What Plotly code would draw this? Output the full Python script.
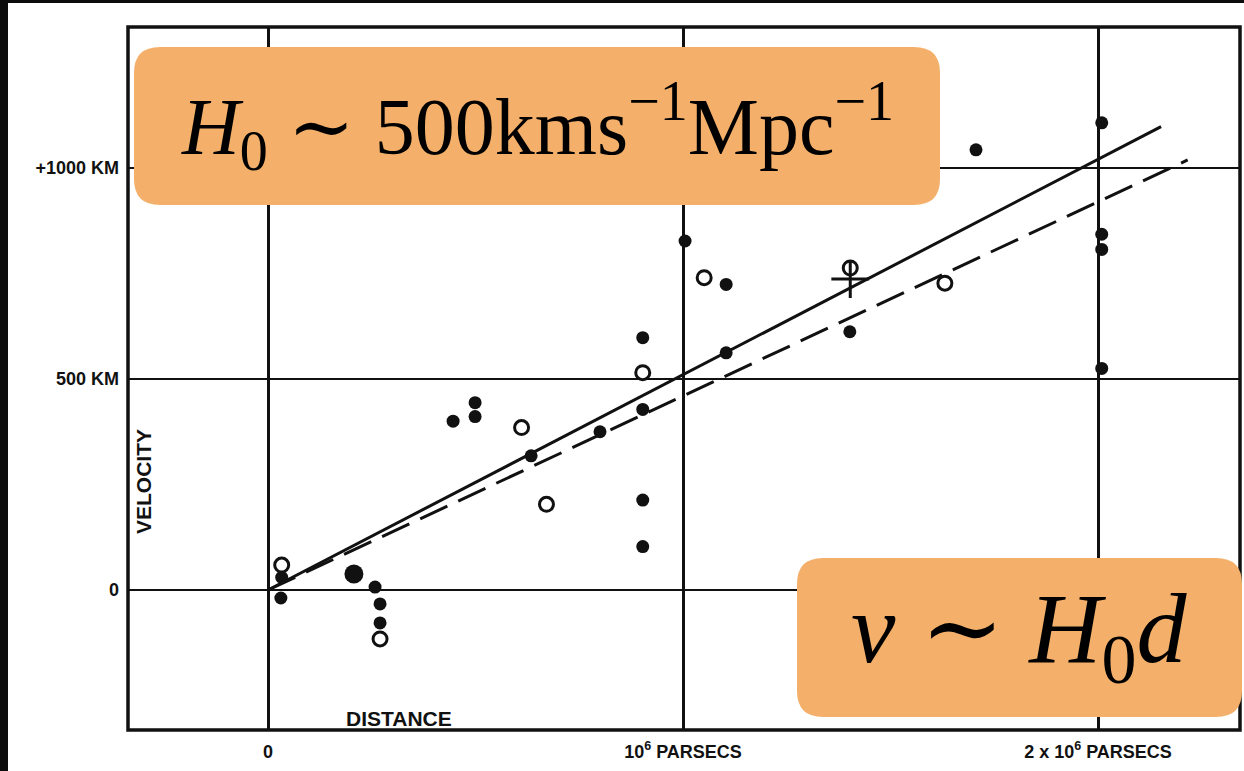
import plotly.graph_objects as go

# Distances in units of 10^6 parsecs, velocities in km/s
filled_distance = [0.031, 0.033, 0.258, 0.270, 0.270, 0.446, 0.499, 0.499, 0.634, 0.800,
                   0.903, 0.903, 0.903, 0.903, 1.005, 1.104, 1.104, 1.402, 1.706,
                   2.009, 2.009, 2.009, 2.009]
filled_velocity = [-19, 30, 7, -33, -78, 400, 444, 411, 318, 375,
                   428, 598, 213, 103, 827, 724, 562, 612, 1043,
                   1107, 843, 807, 525]

large_distance = [0.207]
large_velocity = [38]

open_distance = [0.033, 0.270, 0.611, 0.671, 0.903, 1.051, 1.403, 1.631]
open_velocity = [59, -116, 385, 203, 515, 740, 763, 727]

cross_distance = [1.403]
cross_velocity = [737]

# Fitted relations (solid: individual nebulae, dashed: grouped)
solid_distance = [0.0, 2.152]
solid_velocity = [0, 1098]
dashed_distance = [0.0, 2.216]
dashed_velocity = [0, 1019]

x_tick_vals = [0, 1, 2]
x_tick_text = ["0", "10<sup>6</sup> PARSECS", "2 x 10<sup>6</sup> PARSECS"]
y_tick_vals = [0, 500, 1000]
y_tick_text = ["0", "500 KM", "+1000 KM"]

W, H = 1244, 771
ML, MR, MT, MB = 128, 4, 27, 41
PW, PH = W - ML - MR, H - MT - MB


def px_x(p):
    return (p - ML) / PW


def px_y(p):
    return 1 - (p - MT) / PH


def rounded_box(x0, y0, x1, y1, r):
    # pixel box -> paper path with rounded corners
    ax0, ax1 = px_x(x0), px_x(x1)
    ay0, ay1 = px_y(y0), px_y(y1)  # ay0 is top
    rx, ry = r / PW, r / PH
    return (f"M {ax0 + rx},{ay0} L {ax1 - rx},{ay0} Q {ax1},{ay0} {ax1},{ay0 - ry} "
            f"L {ax1},{ay1 + ry} Q {ax1},{ay1} {ax1 - rx},{ay1} "
            f"L {ax0 + rx},{ay1} Q {ax0},{ay1} {ax0},{ay1 + ry} "
            f"L {ax0},{ay0 - ry} Q {ax0},{ay0} {ax0 + rx},{ay0} Z")


INK = "#111111"
ORANGE = "rgb(244,176,106)"

fig = go.Figure()

fig.add_trace(go.Scatter(x=solid_distance, y=solid_velocity, mode="lines",
                         line=dict(color=INK, width=3), hoverinfo="skip"))
fig.add_trace(go.Scatter(x=dashed_distance, y=dashed_velocity, mode="lines",
                         line=dict(color=INK, width=3, dash="30px,12px"), hoverinfo="skip"))
fig.add_trace(go.Scatter(x=filled_distance, y=filled_velocity, mode="markers",
                         marker=dict(size=13, color=INK, line=dict(width=0))))
fig.add_trace(go.Scatter(x=large_distance, y=large_velocity, mode="markers",
                         marker=dict(size=19, color=INK, line=dict(width=0))))
fig.add_trace(go.Scatter(x=open_distance, y=open_velocity, mode="markers",
                         marker=dict(size=14, color="white", line=dict(width=3, color=INK))))
fig.add_trace(go.Scatter(x=cross_distance, y=cross_velocity, mode="markers",
                         marker=dict(symbol="cross-thin", size=27, line=dict(width=3, color=INK))))

tick_font = dict(family="Liberation Sans, Arial, sans-serif", size=18, color=INK)

fig.update_xaxes(range=[-140 / 415, 972 / 415], tickvals=x_tick_vals,
                 ticktext=[f"<b>{t}</b>" for t in x_tick_text],
                 showgrid=True, gridcolor=INK, gridwidth=2.6, zeroline=False,
                 showline=False, ticks="", tickfont=tick_font, ticklabelstandoff=9)
fig.update_yaxes(range=[-140 / 0.422, 563 / 0.422], tickvals=y_tick_vals,
                 ticktext=[f"<b>{t}</b>" for t in y_tick_text],
                 showgrid=True, gridcolor=INK, gridwidth=2.2, zeroline=False,
                 showline=False, ticks="", tickfont=tick_font, ticklabelstandoff=8)

shapes = [
    # plot frame
    dict(type="rect", xref="paper", yref="paper", x0=0, y0=0, x1=1, y1=1,
         line=dict(color=INK, width=3.5), layer="above"),
    # dark edges of the page
    dict(type="rect", xref="paper", yref="paper", x0=px_x(0), x1=px_x(8),
         y0=px_y(H), y1=px_y(0), fillcolor="#0c0c0c", line=dict(width=0)),
    dict(type="rect", xref="paper", yref="paper", x0=px_x(0), x1=px_x(W),
         y0=px_y(3), y1=px_y(0), fillcolor="#0c0c0c", line=dict(width=0)),
    # highlight boxes
    dict(type="path", xref="paper", yref="paper", path=rounded_box(134, 47, 940, 205, 26),
         fillcolor=ORANGE, line=dict(width=0), layer="above"),
    dict(type="path", xref="paper", yref="paper", path=rounded_box(797, 558, 1242, 717, 26),
         fillcolor=ORANGE, line=dict(width=0), layer="above"),
]

label_font = dict(family="Liberation Sans, Arial, sans-serif", size=21, color=INK)
serif = "Liberation Serif, DejaVu Serif, serif"
annotations = [
    dict(text="<b>VELOCITY</b>", xref="paper", yref="paper", x=px_x(143), y=px_y(482),
         xanchor="center", yanchor="middle",
         textangle=-90, showarrow=False, font=label_font),
    dict(text="<b>DISTANCE</b>", xref="paper", yref="paper", x=px_x(399), y=px_y(718),
         xanchor="center", yanchor="middle", showarrow=False, font=label_font),
    dict(text="<i>H</i><sub>0</sub> ∼ 500kms<sup>−1</sup>Mpc<sup>−1</sup>",
         xref="paper", yref="paper", x=px_x(537), y=px_y(126), xanchor="center", yanchor="middle",
         showarrow=False, font=dict(family=serif, size=80, color="black")),
    dict(text="<i>v</i> ∼ <i>H</i><sub>0</sub><i>d</i>",
         xref="paper", yref="paper", x=px_x(1019), y=px_y(635), xanchor="center", yanchor="middle",
         showarrow=False, font=dict(family=serif, size=100, color="black")),
]

fig.update_layout(width=W, height=H, margin=dict(l=ML, r=MR, t=MT, b=MB),
                  paper_bgcolor="white", plot_bgcolor="white", showlegend=False,
                  font=dict(family="Liberation Sans, Arial, sans-serif", color=INK),
                  shapes=shapes, annotations=annotations)

fig.write_html("out.html")
